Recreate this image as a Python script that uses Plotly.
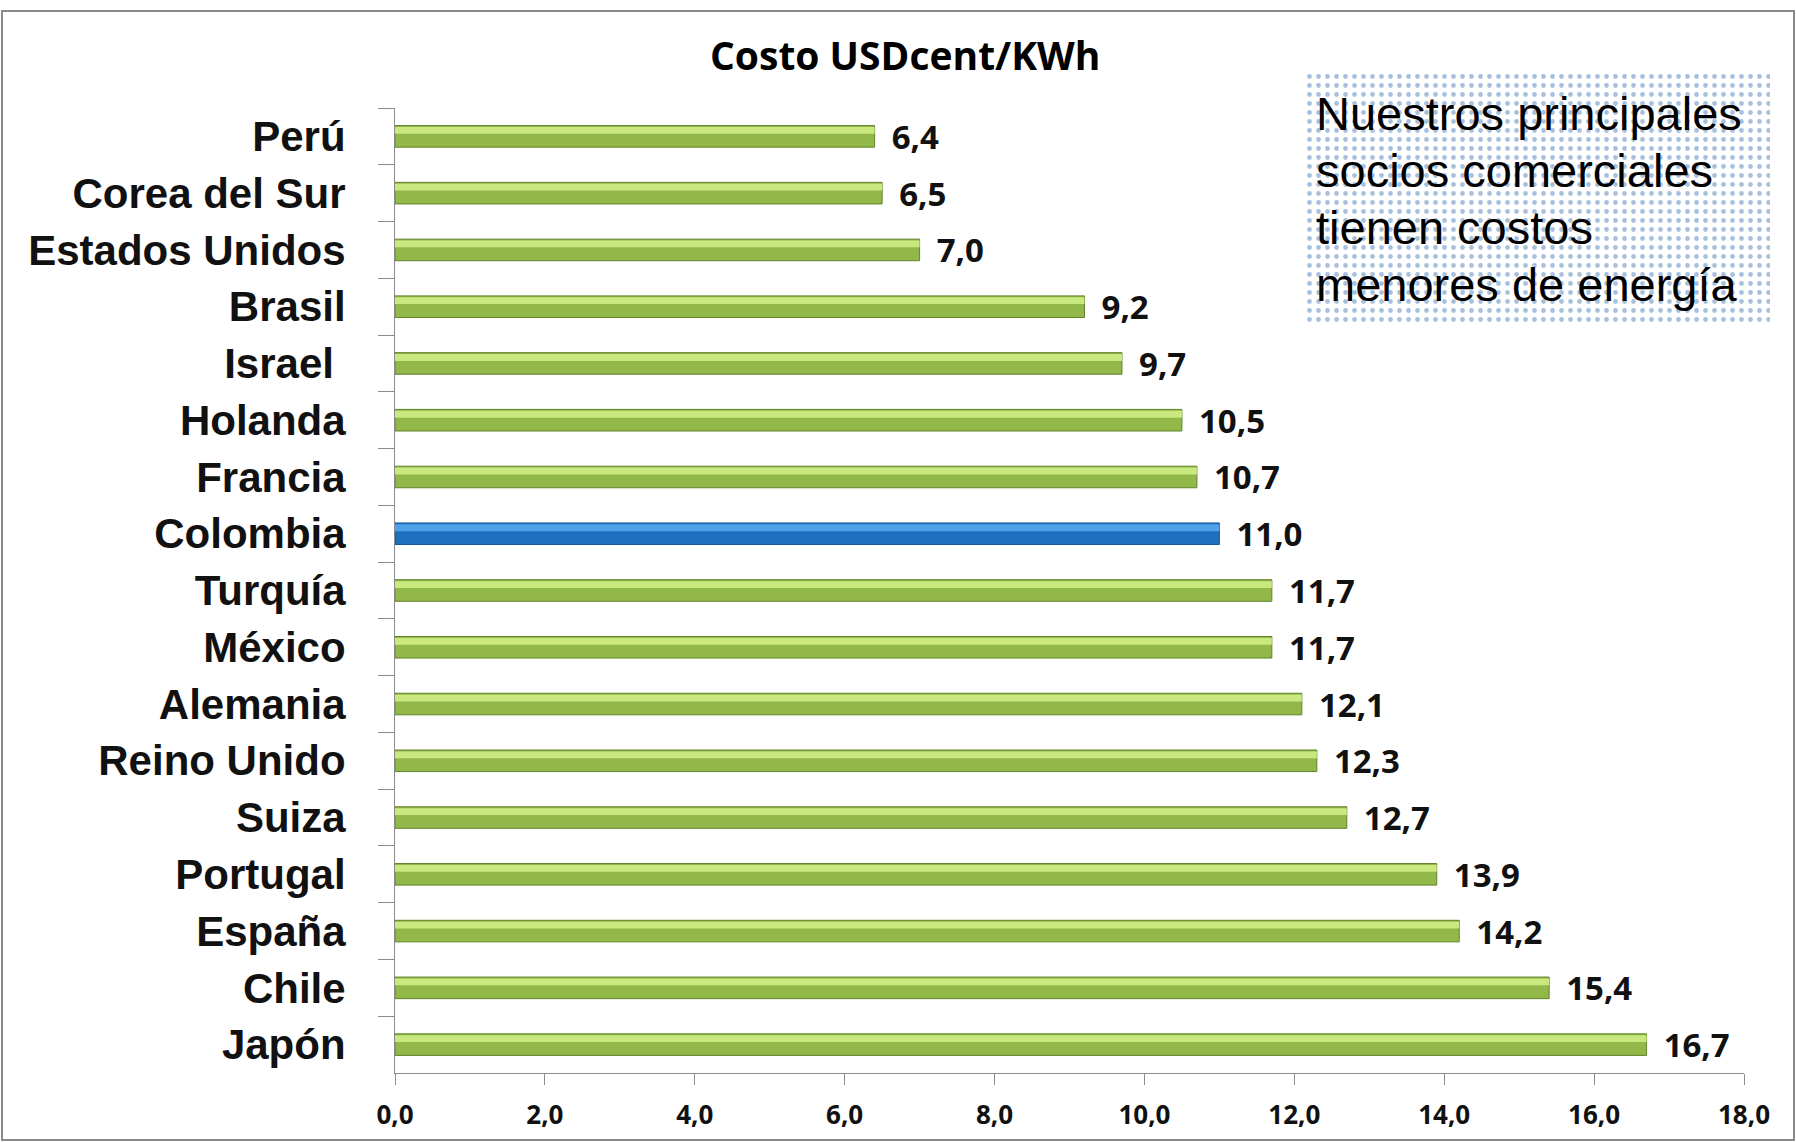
import plotly.graph_objects as go

countries = ["Perú", "Corea del Sur", "Estados Unidos", "Brasil", "Israel\u00a0", "Holanda",
             "Francia", "Colombia", "Turquía", "México", "Alemania", "Reino Unido",
             "Suiza", "Portugal", "España", "Chile", "Japón"]
costs = [6.4, 6.5, 7.0, 9.2, 9.7, 10.5, 10.7, 11.0, 11.7, 11.7, 12.1, 12.3, 12.7, 13.9, 14.2, 15.4, 16.7]
highlight = "Colombia"
x_ticks = [0, 2, 4, 6, 8, 10, 12, 14, 16, 18]
title_text = "Costo USDcent/KWh"
box_lines = ["Nuestros principales", "socios comerciales", "tienen costos", "menores de energía"]

W, H = 1796, 1142
base_col = ["#1f6fbf" if c == highlight else "#92b84a" for c in countries]
line_col = ["#17589a" if c == highlight else "#62822a" for c in countries]
hi_col = ["#4fa2ea" if c == highlight else "#c9e87f" for c in countries]

fig = go.Figure()
fig.add_trace(go.Bar(
    y=countries, x=costs, orientation="h", width=0.38, offset=-0.19,
    marker=dict(color=base_col, line=dict(color=line_col, width=1)),
    texttemplate=" \u2009%{x:.1f}", textposition="outside", cliponaxis=False,
    constraintext="none",
    textfont=dict(family="Open Sans", size=33, color="#111111", weight="bold"),
    hoverinfo="skip", showlegend=False))
fig.add_trace(go.Bar(
    y=countries, x=costs, orientation="h", width=0.12, offset=-0.165,
    marker=dict(color=hi_col, line=dict(width=0)),
    hoverinfo="skip", showlegend=False))

# dotted text box (separate full-page pixel axes)
fig.add_trace(go.Scatter(
    x=[1303, 1770, 1770, 1303, 1303], y=[74, 74, 323, 323, 74],
    xaxis="x2", yaxis="y2", mode="lines", fill="toself",
    line=dict(width=0, color="rgba(0,0,0,0)"),
    fillcolor="white",
    fillpattern=dict(shape=".", fgcolor="#4f81bd", bgcolor="white", size=9, solidity=0.22),
    hoverinfo="skip", showlegend=False))

annotations = []
for i, t in enumerate(box_lines):
    annotations.append(dict(text=t, x=1314, y=113 + i * 57, xref="x2", yref="y2",
                            xanchor="left", yanchor="middle", showarrow=False,
                            font=dict(family="Liberation Sans", size=47, color="black")))
annotations.append(dict(text=title_text, x=905, y=54, xref="x2", yref="y2",
                        xanchor="center", yanchor="middle", showarrow=False,
                        font=dict(family="Open Sans", size=39, color="black", weight="bold")))

fig.update_layout(
    width=W, height=H, margin=dict(l=0, r=0, t=0, b=0),
    paper_bgcolor="white", plot_bgcolor="rgba(0,0,0,0)",
    barmode="overlay", separators=",.",
    annotations=annotations,
    shapes=[dict(type="rect", xref="x2", yref="y2", x0=2, x1=1794, y0=11, y1=1140,
                 line=dict(color="#8a8a8a", width=2), layer="below")],
    xaxis=dict(domain=[395 / W, 1744 / W], range=[0, 18], tickvals=x_ticks,
               tickformat=".1f", showgrid=False, zeroline=False,
               showline=True, linecolor="#8c8c8c", linewidth=1,
               ticks="outside", ticklen=11, tickcolor="#8c8c8c",
               tickfont=dict(family="Open Sans", size=26, color="#111111", weight="bold"),
               ticklabelstandoff=8, automargin=False, anchor="y"),
    yaxis=dict(domain=[1 - 1073 / H, 1 - 108 / H], autorange="reversed",
               categoryorder="array", categoryarray=countries,
               showgrid=False, zeroline=False, showline=True, linecolor="#8c8c8c", linewidth=1,
               ticks="outside", tickson="boundaries", ticklen=16, tickcolor="#8c8c8c",
               tickfont=dict(family="Liberation Sans", size=42, color="#111111", weight="bold"),
               ticklabelstandoff=40, automargin=False, anchor="x"),
    xaxis2=dict(domain=[0, 1], range=[0, W], visible=False, anchor="y2", fixedrange=True),
    yaxis2=dict(domain=[0, 1], range=[H, 0], visible=False, anchor="x2", fixedrange=True),
)

fig.write_html("out.html", config={"displayModeBar": False},
               post_script="document.body.style.margin='0';document.body.style.overflow='hidden';")
